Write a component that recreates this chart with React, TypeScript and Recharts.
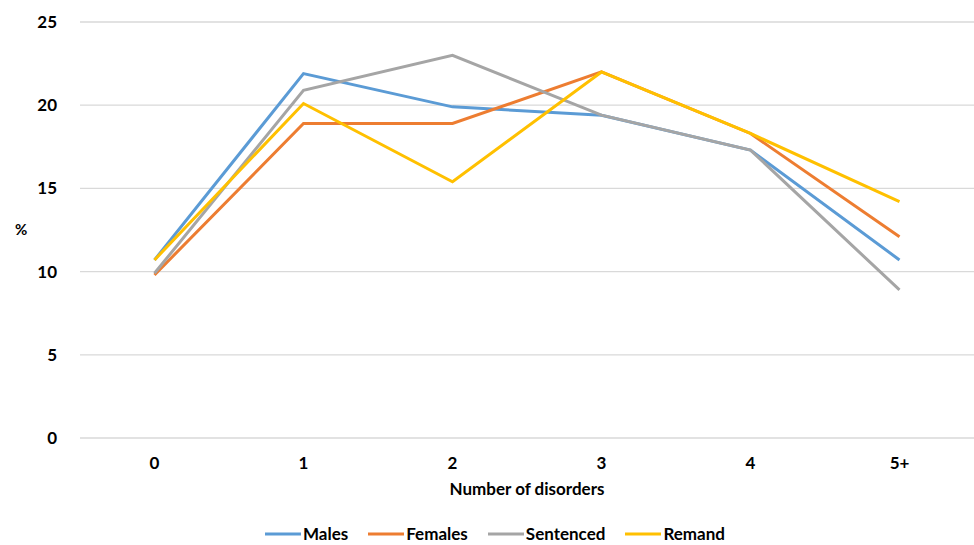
import {CartesianGrid, Line, LineChart, XAxis, YAxis} from "recharts";

const categories = ["0", "1", "2", "3", "4", "5+"];
const males = [10.7, 21.9, 19.9, 19.4, 17.3, 10.7];
const females = [9.8, 18.9, 18.9, 22.0, 18.3, 12.1];
const sentenced = [9.9, 20.9, 23.0, 19.4, 17.3, 8.9];
const remand = [10.7, 20.1, 15.4, 22.0, 18.3, 14.2];
const yTicks = [0, 5, 10, 15, 20, 25];

const seriesList = [
    {key: "Males", values: males, color: "#5B9BD5"},
    {key: "Females", values: females, color: "#ED7D31"},
    {key: "Sentenced", values: sentenced, color: "#A5A5A5"},
    {key: "Remand", values: remand, color: "#FFC000"},
];

const data = categories.map((c, i) => {
    const row: Record<string, string | number> = {name: c};
    seriesList.forEach(s => {
        row[s.key] = s.values[i];
    });
    return row;
});

const font = "Lato, 'Open Sans', sans-serif";

const ChartLegend = () => (
    <div style={{
        position: "absolute", top: 525, left: 265, display: "flex", alignItems: "center", lineHeight: "17px",
        fontFamily: font, fontWeight: 700, fontSize: 17, color: "#000", whiteSpace: "nowrap",
    }}>
        {seriesList.map(s => (
            <div key={s.key} style={{display: "flex", alignItems: "center", marginRight: 20}}>
                <svg width={36} height={6} style={{marginRight: 2}}>
                    <line x1={0} y1={3} x2={36} y2={3} stroke={s.color} strokeWidth={3}/>
                </svg>
                <span>{s.key}</span>
            </div>
        ))}
    </div>
);

export default function App() {
    return (
        <div style={{position: "absolute", left: 0, top: 0, width: 974, height: 545, background: "#fff"}}>
            <LineChart width={974} height={545} data={data}
                       margin={{top: 22, right: 0, bottom: 67, left: 0}}>
                <CartesianGrid vertical={false} stroke="#D9D9D9" strokeWidth={1.3}/>
                <XAxis dataKey="name" axisLine={false} tickLine={false} tickSize={0} tickMargin={19}
                       height={40} padding={{left: 74.5, right: 74.5}}
                       tick={{fontFamily: font, fontWeight: 700, fontSize: 17, fill: "#000"}}
                       label={{
                           value: "Number of disorders", position: "bottom", offset: 5,
                           style: {fontFamily: font, fontWeight: 700, fontSize: 17, fill: "#000"}
                       }}/>
                <YAxis domain={[0, 25]} ticks={yTicks} width={80} axisLine={false} tickLine={false}
                       tickSize={0} tickMargin={23}
                       tick={{fontFamily: font, fontWeight: 700, fontSize: 17, fill: "#000"}}
                       label={{
                           value: "%", position: "insideLeft", offset: 15,
                           style: {fontFamily: font, fontWeight: 700, fontSize: 15, fill: "#000"}
                       }}/>
                {seriesList.map(s => (
                    <Line key={s.key} type="linear" dataKey={s.key} stroke={s.color} strokeWidth={3}
                          dot={false} isAnimationActive={false}/>
                ))}
            </LineChart>
            <ChartLegend/>
        </div>
    );
}
